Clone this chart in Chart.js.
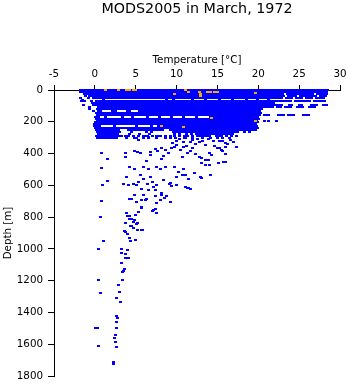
<!DOCTYPE html>
<html>
<head>
<meta charset="utf-8">
<script src="https://cdn.jsdelivr.net/npm/chart.js@4.4.0/dist/chart.umd.min.js"></script>
<style>
  html, body { margin: 0; padding: 0; background: #fff; }
  canvas { display: block; }
</style>
</head>
<body>
<canvas id="c" width="348" height="384"></canvas>
<script>
// Profile readings grouped by depth (m); each string lists temperatures (°C) at that depth
const profileDepths = [0, 12, 24, 36, 48, 60, 72, 84, 96, 108, 120, 132, 144, 156, 168, 180, 192, 204, 216, 228, 240, 252, 264, 276, 288, 300];
const profileTemps = [
  "-1.8 -1.5 -1.2 -0.9 -0.6 -0.3 0.0 0.3 0.6 0.9 1.2 1.5 1.8 2.1 2.4 2.7 3.0 3.3 3.6 3.9 4.2 4.5 4.8 5.1 5.4 5.7 6.0 6.3 6.6 6.9 7.2 7.5 7.8 8.1 8.4 8.7 9.0 9.3 9.6 9.9 10.2 10.5 10.8 11.1 11.4 11.7 12.0 12.3 12.6 12.9 13.2 13.5 13.8 14.1 14.4 14.7 15.0 15.3 15.6 15.9 16.2 16.5 16.8 17.1 17.4 17.7 18.0 18.3 18.6 18.9 19.2 19.5 19.8 20.1 20.4 20.7 21.0 21.3 21.6 21.9 22.2 22.5 22.8 23.1 23.4 23.7 24.0 24.3 24.6 24.9 25.2 25.5 25.8 26.1 26.4 26.7 27.0 27.3 27.6 27.9 28.2 28.5",
  "-1.7 -1.4 -1.1 -0.8 -0.5 -0.2 0.1 0.4 0.7 1.0 1.3 1.6 1.9 2.2 2.5 2.8 3.1 3.4 3.7 4.0 4.3 4.6 4.9 5.2 5.5 5.8 6.1 6.4 6.7 7.0 7.3 7.6 7.9 8.2 8.5 8.8 9.1 9.4 9.7 10.0 10.3 10.6 10.9 11.2 11.5 11.8 12.1 12.4 12.7 13.0 13.3 13.6 13.9 14.2 14.5 14.8 15.1 15.4 15.7 16.0 16.3 16.6 16.9 17.2 17.5 17.8 18.1 18.4 18.7 19.0 19.3 19.6 19.9 20.2 20.5 20.8 21.1 21.4 21.7 22.0 22.3 22.6 22.9 23.2 23.5 23.8 24.1 24.4 24.7 25.0 25.3 25.6 25.9 26.2 26.5 26.8 27.1 27.4 27.7 28.0 28.3",
  "-1.3 -1.0 -0.7 -0.4 -0.1 0.2 0.5 0.8 1.1 1.4 1.7 2.0 2.3 2.6 2.9 3.2 3.5 3.8 4.1 4.4 4.7 5.0 5.3 5.6 5.9 6.2 6.5 6.8 7.1 7.4 7.7 8.0 8.3 8.6 8.9 9.2 9.5 9.8 10.1 10.4 10.7 11.0 11.3 11.6 11.9 12.2 12.5 12.8 13.1 13.4 13.7 14.0 14.3 14.6 14.9 15.2 15.5 15.8 16.1 16.4 16.7 17.0 17.3 17.6 17.9 18.2 18.5 18.8 19.1 19.4 19.7 20.0 20.3 20.6 20.9 21.2 21.5 21.8 22.1 22.4 22.7 23.0 23.6 23.9 24.2 24.5 24.8 25.1 25.4 25.7 26.0 26.3 26.6 27.2 27.5 27.8 28.1 28.4",
  "-1.2 -0.6 -0.3 0.0 0.3 0.6 0.9 1.2 1.5 1.8 2.1 2.4 2.7 3.0 3.3 3.6 3.9 4.2 4.5 4.8 5.1 5.4 5.7 6.0 6.3 6.6 6.9 7.2 7.5 7.8 8.1 8.4 8.7 9.0 9.3 9.6 9.9 10.2 10.5 10.8 11.1 11.4 11.7 12.0 12.3 12.6 12.9 13.2 13.5 13.8 14.1 14.4 14.7 15.0 15.3 15.6 15.9 16.2 16.5 16.8 17.1 17.4 17.7 18.0 18.3 18.6 18.9 19.2 19.5 19.8 20.1 20.4 20.7 21.0 21.3 21.6 21.9 22.2 22.5 22.8 23.1 23.7 24.0 24.3 24.6 25.2 25.5 25.8 26.1 26.4 26.7 27.0 27.6 27.9 28.2",
  "-1.7 -0.8 -0.2 0.1 0.4 0.7 1.0 1.3 1.6 1.9 2.2 2.5 2.8 3.1 3.4 3.7 4.0 4.3 4.6 4.9 5.2 5.5 5.8 6.1 6.4 6.7 7.0 7.3 7.6 7.9 8.2 8.5 8.8 9.1 9.4 9.7 10.0 10.3 10.6 10.9 11.2 11.5 11.8 12.1 12.4 12.7 13.0 13.3 13.6 13.9 14.2 14.5 14.8 15.1 15.4 15.7 16.0 16.3 16.6 16.9 17.2 17.5 17.8 18.1 18.4 18.7 19.0 19.3 19.6 19.9 20.2 20.5 20.8 21.1 21.4 21.7 22.0 22.3 22.6 22.9 23.5 23.8 24.1 24.7 25.0 25.3 25.9 26.2 26.5 27.1 27.4 27.7 28.0",
  "-1.5 1.0 8.8 9.6 12.0 13.5 15.2 16.8 18.6 19.9 21.2",
  "-1.6 -1.3 -0.4 0.2 0.5 0.8 1.1 1.4 1.7 2.0 2.3 2.6 2.9 3.2 3.5 3.8 4.1 4.4 4.7 5.0 5.3 5.6 5.9 6.2 6.5 6.8 7.1 7.4 7.7 8.0 8.3 8.6 8.9 9.2 9.5 9.8 10.1 10.4 10.7 11.0 11.3 11.6 11.9 12.2 12.5 12.8 13.1 13.4 13.7 14.0 14.3 14.6 14.9 15.2 15.5 15.8 16.1 16.4 16.7 17.0 17.3 17.6 17.9 18.2 18.5 18.8 19.1 19.4 19.7 20.0 20.3 20.6 20.9 21.2 21.5 21.8 22.1 22.4 22.7 23.0 23.3 23.6 23.9 24.5 24.8 25.1 25.4 25.7 26.0 26.3 26.9 27.2 27.5 27.8 28.1",
  "-0.3 0.0 0.3 0.6 0.9 1.2 1.5 1.8 2.1 2.4 2.7 3.0 3.3 3.6 3.9 4.2 4.5 4.8 5.1 5.4 5.7 6.0 6.3 6.6 6.9 7.2 7.5 7.8 8.1 8.4 8.7 9.0 9.3 9.6 9.9 10.2 10.5 10.8 11.1 11.4 11.7 12.0 12.3 12.6 12.9 13.2 13.5 13.8 14.1 14.4 14.7 15.0 15.3 15.6 15.9 16.2 16.5 16.8 17.1 17.4 17.7 18.0 18.3 18.6 18.9 19.2 19.5 19.8 20.1 20.4 20.7 21.0 21.3 21.6 21.9",
  "-1.4 -0.2 0.1 0.4 0.7 1.0 1.3 1.6 1.9 2.2 2.5 2.8 3.1 3.4 3.7 4.0 4.3 4.6 4.9 5.2 5.5 5.8 6.1 6.4 6.7 7.0 7.3 7.6 7.9 8.2 8.5 8.8 9.1 9.4 9.7 10.0 10.3 10.6 10.9 11.2 11.5 11.8 12.1 12.4 12.7 13.0 13.3 13.6 13.9 14.2 14.5 14.8 15.1 15.4 15.7 16.0 16.3 16.6 16.9 17.2 17.5 17.8 18.1 18.4 18.7 19.0 19.3 19.6 19.9 20.2 20.5 20.8 21.1 21.4 21.7 22.0 22.3 22.6 22.9 23.8 24.1 25.0 25.3 26.5 26.8 27.1 28.0 28.3",
  "-0.7 0.5 0.8 1.1 1.4 1.7 2.0 2.3 2.6 2.9 3.2 3.5 3.8 4.1 4.4 4.7 5.0 5.3 5.6 5.9 6.2 6.5 6.8 7.1 7.4 7.7 8.0 8.3 8.6 8.9 9.2 9.5 9.8 10.1 10.4 10.7 11.0 11.3 11.6 11.9 12.2 12.5 12.8 13.1 13.4 13.7 14.0 14.3 14.6 14.9 15.2 15.5 15.8 16.1 16.4 16.7 17.0 17.3 17.6 17.9 18.2 18.5 18.8 19.1 19.4 19.7 20.0 20.3 20.6 20.9 21.2 21.5 21.8 22.4 22.7 23.3 23.6 23.9 24.8 25.1 25.4 26.3 26.6 26.9",
  "-0.6 0.3 0.6 0.9 1.2 1.5 1.8 2.1 2.4 2.7 3.0 3.3 3.6 3.9 4.2 4.5 4.8 5.1 5.4 5.7 6.0 6.3 6.6 6.9 7.2 7.5 7.8 8.1 8.4 8.7 9.0 9.3 9.6 9.9 10.2 10.5 10.8 11.1 11.4 11.7 12.0 12.3 12.6 12.9 13.2 13.5 13.8 14.1 14.4 14.7 15.0 15.3 15.6 15.9 16.2 16.5 16.8 17.1 17.4 17.7 18.0 18.3 18.6 18.9 19.2 19.5 19.8 20.1 20.4",
  "-0.2 0.4 0.7 2.2 2.5 4.0 4.3 5.5 5.8 6.1 6.4 6.7 7.0 7.3 7.6 7.9 8.2 8.5 8.8 9.1 9.4 9.7 10.0 10.3 10.6 10.9 11.2 11.5 11.8 12.1 12.4 12.7 13.0 13.3 13.6 13.9 14.2 14.5 14.8 15.1 15.4 15.7 16.0 16.3 16.6 16.9 17.2 17.5 17.8 18.1 18.4 18.7 19.0 19.3 19.6 19.9 20.2",
  "0.2 0.5 0.8 1.1 1.4 1.7 2.0 2.3 2.6 2.9 3.2 3.5 3.8 4.1 4.4 4.7 5.0 5.3 5.6 5.9 6.2 6.5 6.8 7.1 7.4 7.7 8.0 8.3 8.6 8.9 9.2 9.5 9.8 10.1 10.4 10.7 11.0 11.3 11.6 11.9 12.2 12.5 12.8 13.1 13.4 13.7 14.0 14.3 14.6 14.9 15.2 15.5 15.8 16.1 16.4 16.7 17.0 17.3 17.6 17.9 18.2 18.5 18.8 19.1 19.4 19.7 20.0 20.3",
  "0.3 0.6 0.9 1.2 1.5 1.8 2.1 2.4 2.7 3.0 3.3 3.6 3.9 4.2 4.5 4.8 5.1 5.4 5.7 6.0 6.3 6.6 6.9 7.2 7.5 7.8 8.1 8.4 8.7 9.0 9.3 9.6 9.9 10.2 10.5 10.8 11.1 11.4 11.7 12.0 12.3 12.6 12.9 13.2 13.5 13.8 14.1 14.4 14.7 15.0 15.3 15.6 15.9 16.2 16.5 16.8 17.1 17.4 17.7 18.0 18.3 18.6 18.9 19.2 19.5 19.8 20.1 20.7 21.0 21.3 22.5 22.8 23.1 23.7 24.0 24.3 25.5 25.8 26.1",
  "0.1 0.4 1.3 3.4 4.6 6.4 7.9 9.4 10.9 12.4 14.2 14.5 14.8 15.1 15.4 15.7 16.0 16.3 16.6 16.9 17.2 17.5 17.8 18.1 18.4 18.7 19.0 19.3 19.6 19.9",
  "0.2 0.5 0.8 1.1 1.4 1.7 2.0 2.3 2.6 2.9 3.2 3.5 3.8 4.1 4.4 4.7 5.0 5.3 5.6 5.9 6.2 6.5 6.8 7.1 7.4 7.7 8.0 8.3 8.6 8.9 9.2 9.5 9.8 10.1 10.4 10.7 11.0 11.3 11.6 11.9 12.2 12.5 12.8 13.1 13.4 13.7 14.0 14.3 14.6 14.9 15.2 15.5 15.8 16.1 16.4 16.7 17.0 17.3 17.6 17.9 18.2 18.5 18.8 19.1 19.4 19.7 20.0",
  "0.3 0.6 0.9 1.2 1.5 1.8 2.1 2.4 2.7 3.0 3.3 3.6 3.9 4.2 4.5 4.8 5.1 5.4 5.7 6.0 6.3 6.6 6.9 7.2 7.5 7.8 8.1 8.4 8.7 9.0 9.3 9.6 9.9 10.2 10.5 10.8 11.1 11.4 11.7 12.0 12.3 12.6 12.9 13.2 13.5 13.8 14.1 14.4 14.7 15.0 15.3 15.6 15.9 16.2 16.5 16.8 17.1 17.4 17.7 18.0 18.3 18.6 18.9 19.2 19.5 19.8 20.7 21.3 22.2",
  "0.1 0.4 0.7 1.0 1.3 1.6 1.9 2.2 2.5 2.8 3.1 3.4 3.7 4.0 4.3 4.6 4.9 5.2 5.5 5.8 6.1 6.4 6.7 7.0 7.3 7.6 7.9 8.2 8.5 8.8 9.1 9.4 9.7 10.0 10.3 10.6 10.9 11.2 11.5 11.8 12.1 12.4 12.7 13.0 13.3 13.6 13.9 14.2 14.5 14.8 15.1 15.4 15.7 16.0 16.3 16.6 16.9 17.2 17.5 17.8 18.1 18.4 18.7 19.0 19.3 19.6 19.9",
  "-0.1 0.2 0.5 0.8 1.1 1.4 1.7 2.0 2.3 2.6 2.9 3.2 3.5 3.8 4.1 4.4 4.7 5.0 5.3 5.6 5.9 6.2 6.5 6.8 7.1 7.4 7.7 8.0 8.3 8.6 8.9 9.2 9.5 9.8 10.1 10.4 10.7 11.0 11.3 11.6 11.9 12.2 12.5 12.8 13.1 13.4 13.7 14.0 14.3 14.6 14.9 15.2 15.5 15.8 16.1 16.4 16.7 17.0 17.3 17.6 17.9 18.2 18.5 18.8 19.1 19.4 19.7",
  "0.0 0.3 0.6 2.4 5.1 6.9 7.8 8.1 8.4 8.7 9.0 9.3 9.6 9.9 10.2 10.5 10.8 11.1 11.4 11.7 12.0 12.3 12.6 12.9 13.2 13.5 13.8 14.1 14.4 14.7 15.0 15.3 15.6 15.9 16.2 16.5 16.8 17.1 17.4 17.7 18.0 18.3 18.6 18.9 19.2 19.5 19.8",
  "0.1 0.4 0.7 1.0 1.3 1.6 1.9 2.2 2.5 2.8 3.1 3.4 3.7 4.0 4.3 4.6 4.9 5.2 5.5 5.8 6.1 6.4 6.7 7.0 7.3 7.6 7.9 8.2 8.5 8.8 9.1 9.4 9.7 10.0 10.3 10.6 10.9 11.2 11.5 11.8 12.1 12.4 12.7 13.0 13.3 13.6 13.9 14.2 14.5 14.8 15.1 15.4 15.7 16.0 16.3 16.6 16.9 17.2 17.5 17.8 18.1 18.4 18.7 19.0 19.3 19.6 19.9",
  "0.2 0.5 0.8 1.1 1.4 1.7 2.0 2.3 2.6 2.9 4.1 4.4 4.7 5.0 5.3 5.6 5.9 6.2 6.5 6.8 7.1 7.4 7.7 8.0 8.3 9.2 9.5 9.8 10.1 10.4 10.7 11.0 11.3 11.6 11.9 12.2 12.5 12.8 13.1 13.4 13.7 14.0 14.3 14.6 14.9 15.2 15.5 15.8 16.1 16.4 16.7 17.0 17.3 17.6 17.9 18.2 18.5 18.8 19.1 19.4 19.7",
  "0.3 0.6 0.9 1.2 1.5 1.8 2.1 2.4 2.7 3.0 4.5 6.3 6.9 9.6 9.9 10.2 10.5 10.8 11.1 11.4 11.7 12.0 12.3 12.6 12.9 13.2 13.5 13.8 14.1 14.4 14.7 15.0 15.3 15.6 15.9 16.2 16.5 16.8 17.1 17.4 18.3 18.9",
  "0.4 0.7 1.0 1.3 1.6 1.9 2.2 2.5 2.8 4.3 5.5 6.7 9.7 10.3 11.2 11.8 12.4 12.7 13.0 13.3 13.6 13.9 14.2 14.5 14.8 15.1 15.4 15.7 16.0 16.3 16.6 16.9",
  "0.2 0.5 0.8 1.1 1.4 1.7 2.0 2.3 2.6 2.9 3.2 3.8 4.1 4.7 5.3 6.2 6.5 7.1 7.7 8.0 8.6 9.2 9.8 10.4 11.0 11.3 11.9 12.5 12.8 13.1 13.4 13.7 14.0 14.9 15.2 15.5 16.1 16.7 17.3",
  "0.3 0.6 0.9 1.2 1.5 1.8 2.1 2.4 2.7 3.9 5.1 6.0 6.6 7.5 8.7 9.3 9.9 11.1 12.0 13.2 14.1 15.0 15.6 16.5"
];

// Individual readings below the mixed layer
const deepTemp = [
  3.9, 4.9, 5.3, 6.0, 6.6, 7.5, 8.6, 10.0, 10.8, 11.7, 12.3, 15.6, 16.0, 15.3, 16.2, 14.6, 15.0, 17.3,
  10.3, 11.0, 11.9, 12.6, 13.2, 13.9, 14.5, 16.6, 17.0, 9.5, 12.8, 13.6, 11.2, 9.8, 12.0,
  0.85, 1.5, 3.8, 4.9, 5.2, 5.55, 3.8, 6.8, 6.8, 7.4, 7.7, 8.2, 8.6, 9.0, 9.4, 8.4, 8.2, 10.0, 10.45, 10.9,
  11.3, 10.7, 11.7, 12.3, 12.8, 13.1, 13.5, 13.9, 14.3, 15.2, 15.6, 16.0, 15.8, 16.0, 15.5, 14.0, 13.0, 13.6,
  14.0, 15.1, 16.0, 6.3,
  6.0, 6.55, 4.2, 4.8, 3.9, 7.6, 8.0, 8.6, 9.8, 10.25, 10.8, 11.1, 11.5, 12.2, 13.0, 14.1, 12.9, 5.55, 5.95,
  6.8, 5.3, 6.4, 7.0, 5.75, 6.55, 7.2, 3.5, 4.1, 4.7, 9.15, 9.4, 10.0, 11.3, 11.7, 0.85, 1.6, 0.9, 5.15, 7.6,
  8.4, 9.2, 10.0, 11.1, 11.5, 10.7, 7.4,
  4.3, 4.9, 5.95, 6.3, 7.4, 8.2, 8.5, 9.2, 5.75, 7.4, 4.5, 5.65, 6.15, 8.2, 8.8, 0.8, 5.1, 8.0, 7.6, 7.2, 7.5,
  7.0, 5.7,
  5.3, 3.9, 4.0, 4.3, 5.0, 0.65, 4.45, 4.2, 4.8, 4.7, 3.8, 5.2, 5.15, 4.5, 4.4, 4.7, 5.8, 5.2, 5.75, 3.6, 3.7,
  4.0, 4.2, 4.4, 5.0, 1.0, 0.5,
  3.2, 4.0, 3.2, 3.8, 3.8, 4.1, 3.2, 3.6, 3.5, 3.4, 0.4, 3.4, 2.9, 3.0, 0.7, 2.7, 3.1, 2.7, 2.8, 2.7, 0.1,
  0.3, 2.6, 2.5, 2.45, 2.5, 0.5, 2.6, 2.3, 2.3
];
const deepDepth = [
  290, 300, 315, 290, 296, 288, 292, 320, 330, 325, 340, 320, 335, 318, 342, 350, 362, 358,
  310, 305, 312, 308, 318, 310, 322, 312, 326, 335, 330, 345, 350, 360, 365,
  399, 432, 399, 382, 390, 395, 424, 389, 410, 372, 382, 368, 379, 399, 368, 416, 437, 347, 378, 357,
  399, 424, 382, 403, 424, 458, 473, 441, 410, 368, 382, 357, 452, 400, 380, 397, 425, 440,
  470, 460, 454, 445,
  483, 500, 487, 500, 547, 487, 500, 487, 487, 515, 500, 536, 557, 525, 551, 536, 548, 536, 557,
  547, 578, 589, 578, 620, 630, 609, 593, 599, 593, 589, 605, 599, 614, 620, 493, 571, 600, 598, 599,
  567, 588, 547, 609, 616, 536, 630,
  687, 662, 662, 689, 666, 651, 677, 704, 735, 746, 687, 694, 694, 658, 666, 699, 703, 692, 709, 757, 771,
  761, 743,
  770, 773, 792, 791, 789, 800, 809, 812, 818, 830, 839, 839, 841, 855, 856, 866, 879, 883, 883, 887, 893,
  908, 934, 950, 942, 952, 999,
  1003, 1007, 1024, 1034, 1059, 1059, 1091, 1127, 1139, 1145, 1198, 1198, 1229, 1273, 1280, 1307, 1336, 1420, 1433, 1462, 1496,
  1496, 1496, 1542, 1559, 1588, 1609, 1617, 1714, 1726
];

// Second group of readings (orange)
const altTemp = [1.3, 2.9, 3.9, 4.3, 4.7, 5.0, 9.8, 11.1, 11.4, 12.8, 12.9, 12.9, 13.8, 14.2, 14.6, 15.0, 19.7, 14.3, 19.6, 8.2, 10.9];
const altDepth = [3, 0, 0, 0, 0, 0, 25, 0, 12, 15, 25, 35, 10, 10, 10, 10, 22, 175, 195, 228, 230];

const xTicks = [-5, 0, 5, 10, 15, 20, 25, 30];
const yTicks = [0, 200, 400, 600, 800, 1000, 1200, 1400, 1600, 1800];
const titleText = 'MODS2005 in March, 1972';
const xLabel = 'Temperature [°C]';
const yLabel = 'Depth [m]';

const BLUE = '#0000ff';
const ORANGE = '#ffa500';
const FONT = 'DejaVu Sans';

const bluePoints = [];
profileDepths.forEach((d, i) => {
  profileTemps[i].trim().split(/\s+/).map(Number).forEach(t => bluePoints.push({x: t, y: d}));
});
deepTemp.forEach((t, i) => bluePoints.push({x: t, y: deepDepth[i]}));
const orangePoints = altTemp.map((t, i) => ({x: t, y: altDepth[i]}));

// Small solid rectangle used as the point marker
function makeMarker(color, w, h) {
  const c = document.createElement('canvas');
  c.width = w;
  c.height = h;
  const g = c.getContext('2d');
  g.fillStyle = color;
  g.fillRect(0, 0, w, h);
  return c;
}
const blueMarker = makeMarker(BLUE, 3, 2);
const orangeMarker = makeMarker(ORANGE, 3, 2);

// Keep markers pixel-crisp
const crispPoints = {
  id: 'crispPoints',
  beforeDatasetsDraw(chart) { chart.ctx.imageSmoothingEnabled = false; },
  afterDatasetsDraw(chart) { chart.ctx.imageSmoothingEnabled = true; }
};

const titlePlugin = {
  id: 'plotTitle',
  afterDraw(chart) {
    const {ctx, chartArea} = chart;
    ctx.save();
    ctx.font = '14.3px "' + FONT + '"';
    ctx.fillStyle = '#000';
    ctx.textAlign = 'center';
    ctx.textBaseline = 'alphabetic';
    ctx.fillText(titleText, (chartArea.left + chartArea.right) / 2, 13);
    ctx.restore();
  }
};

const common = {showLine: false, clip: false, pointBorderWidth: 0};

new Chart(document.getElementById('c'), {
  type: 'scatter',
  data: {
    datasets: [
      Object.assign({data: orangePoints, pointStyle: orangeMarker, backgroundColor: ORANGE, order: 0}, common),
      Object.assign({data: bluePoints, pointStyle: blueMarker, backgroundColor: BLUE, order: 1}, common)
    ]
  },
  options: {
    responsive: false,
    animation: false,
    events: [],
    layout: {padding: {top: 40, left: 0, right: 8, bottom: 8}},
    plugins: {legend: {display: false}, tooltip: {enabled: false}},
    scales: {
      x: {
        type: 'linear',
        position: 'top',
        min: xTicks[0],
        max: xTicks[xTicks.length - 1],
        afterBuildTicks: s => { s.ticks = xTicks.map(v => ({value: v})); },
        ticks: {color: '#000', font: {family: FONT, size: 10.3}, padding: 4, maxRotation: 0, autoSkip: false,
                callback: v => String(v)},
        grid: {drawOnChartArea: false, tickLength: 5, color: '#000', lineWidth: 1},
        border: {display: true, color: '#000', width: 1},
        title: {display: true, text: xLabel, color: '#000', font: {family: FONT, size: 10.3}, padding: {top: 14, bottom: 0}},
        afterFit: s => { s.height = 50; s.paddingLeft = 0; s.paddingRight = 0; }
      },
      y: {
        type: 'linear',
        position: 'left',
        reverse: true,
        min: yTicks[0],
        max: yTicks[yTicks.length - 1],
        afterBuildTicks: s => { s.ticks = yTicks.map(v => ({value: v})); },
        ticks: {color: '#000', font: {family: FONT, size: 10.3}, padding: 5, autoSkip: false,
                callback: v => String(v)},
        grid: {drawOnChartArea: false, tickLength: 6, color: '#000', lineWidth: 1},
        border: {display: true, color: '#000', width: 1},
        title: {display: true, text: yLabel, color: '#000', font: {family: FONT, size: 10.3}, padding: {top: 2, bottom: 0}},
        afterFit: s => { s.width = 54; s.paddingTop = 0; s.paddingBottom = 0; }
      }
    }
  },
  plugins: [crispPoints, titlePlugin]
});
</script>
</body>
</html>
